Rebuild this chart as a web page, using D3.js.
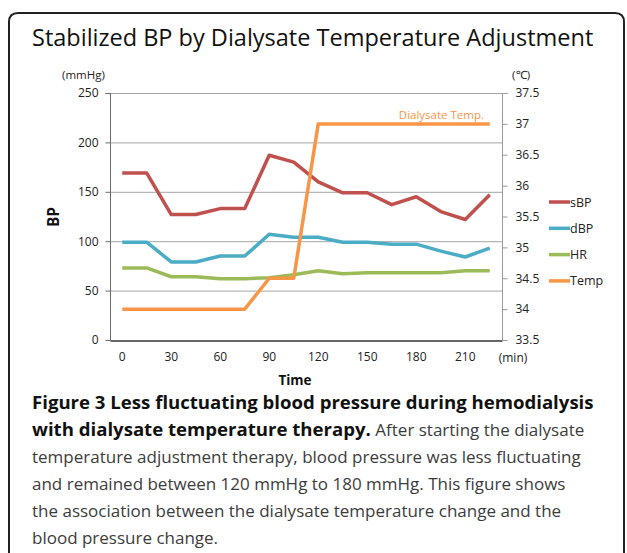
<!DOCTYPE html>
<html>
<head>
<meta charset="utf-8">
<script src="https://cdn.jsdelivr.net/npm/d3@7"></script>
<style>
  body { margin: 0; background: #fff; }
  svg text { font-family: "Open Sans", "Noto Sans", sans-serif; }
</style>
</head>
<body>
<div id="chart"></div>
<script>
// data (every 15 min)
var times = [0, 15, 30, 45, 60, 75, 90, 105, 120, 135, 150, 165, 180, 195, 210, 225]
var sBP = [169, 169, 127, 127, 133, 133, 187, 180, 160, 149, 149, 137, 145, 130, 122, 147]
var dBP = [99, 99, 79, 79, 85, 85, 107, 104, 104, 99, 99, 97, 97, 90, 84, 93]
var HR = [73, 73, 64, 64, 62, 62, 63, 66, 70, 67, 68, 68, 68, 68, 70, 70]
var temp = [34, 34, 34, 34, 34, 34, 34.5, 34.5, 37, 37, 37, 37, 37, 37, 37, 37]
var leftTicks = [0, 50, 100, 150, 200, 250]
var rightTicks = [33.5, 34, 34.5, 35, 35.5, 36, 36.5, 37, 37.5]
var xTickValues = [0, 30, 60, 90, 120, 150, 180, 210]

var seriesNames = ["sBP", "dBP", "HR", "Temp"]
var seriesColors = ["#C0504D", "#4BACC6", "#9BBB59", "#F79646"]

var width = 627, height = 553
var plotLeft = 110, plotRight = 502, plotTop = 93, plotBottom = 340

var svg = d3.select("#chart").append("svg")
  .attr("width", width)
  .attr("height", height)

// frame round the figure (open at the bottom)
svg.append("path")
  .attr("d", "M9,560 L9,22 Q9,13 18,13 L615,13 Q624,13 624,22 L624,560")
  .attr("fill", "none")
  .attr("stroke", "#222")
  .attr("stroke-width", 2)

svg.append("text")
  .attr("x", 32)
  .attr("y", 46)
  .attr("font-size", 23.5)
  .attr("fill", "#111")
  .text("Stabilized BP by Dialysate Temperature Adjustment")

// scales
var x = d3.scaleBand().domain(times).range([plotLeft, plotRight])
var yLeft = d3.scaleLinear().domain([0, 250]).range([plotBottom, plotTop])
var yRight = d3.scaleLinear().domain([33.5, 37.5]).range([plotBottom, plotTop])

function cx(t) { return x(t) + x.bandwidth() / 2 }

// gridlines
svg.append("g")
  .selectAll("line")
  .data(leftTicks.slice(1))
  .enter().append("line")
  .attr("x1", plotLeft).attr("x2", plotRight)
  .attr("y1", function(d) { return yLeft(d) + 0.5 })
  .attr("y2", function(d) { return yLeft(d) + 0.5 })
  .attr("stroke", "#a6a6a6")
  .attr("stroke-width", 1)

// left axis
var leftAxis = svg.append("g")
  .attr("transform", "translate(" + (plotLeft + 0.5) + ",0)")
  .call(d3.axisLeft(yLeft).tickValues(leftTicks).tickSize(5).tickPadding(7))
leftAxis.select(".domain").attr("stroke", "#6b6b6b").attr("d", "M-5," + (plotTop + 0.5) + "H0V" + plotBottom)
leftAxis.selectAll(".tick line").attr("stroke", "#6b6b6b")
leftAxis.selectAll("text").attr("font-size", 12).attr("fill", "#222")
  .attr("font-family", "'Open Sans', sans-serif")

// right axis
var rightAxis = svg.append("g")
  .attr("transform", "translate(" + (plotRight + 0.5) + ",0)")
  .call(d3.axisRight(yRight).tickValues(rightTicks).tickFormat(d3.format("~g")).tickSize(5).tickPadding(8))
rightAxis.select(".domain").attr("stroke", "#9a9a9a").attr("d", "M5," + (plotTop + 0.5) + "H0V" + plotBottom)
rightAxis.selectAll(".tick line").attr("stroke", "#9a9a9a")
rightAxis.selectAll("text").attr("font-size", 12).attr("fill", "#222")
  .attr("font-family", "'Open Sans', sans-serif")

// bottom axis
var bottomAxis = svg.append("g")
  .attr("transform", "translate(0," + (plotBottom + 0.5) + ")")
  .call(d3.axisBottom(x).tickValues(xTickValues).tickSize(0).tickPadding(12))
bottomAxis.select(".domain").attr("stroke", "#333").attr("stroke-width", 1.5)
bottomAxis.selectAll("text").attr("font-size", 12).attr("fill", "#222")
  .attr("font-family", "'Open Sans', sans-serif")

svg.append("text")
  .attr("x", 513).attr("y", 362)
  .attr("text-anchor", "middle")
  .attr("font-size", 12).attr("fill", "#222")
  .text("(min)")

// unit labels
svg.append("text")
  .attr("x", 62).attr("y", 79)
  .attr("font-size", 11.5).attr("fill", "#222")
  .text("(mmHg)")
svg.append("text")
  .attr("x", 512).attr("y", 79)
  .attr("font-size", 11.5).attr("fill", "#222")
  .text("(\u2103)")

// axis titles
svg.append("text")
  .attr("x", 295).attr("y", 385)
  .attr("text-anchor", "middle")
  .attr("font-size", 13.5).attr("font-weight", "bold").attr("fill", "#111")
  .text("Time")
svg.append("text")
  .attr("transform", "translate(59,217) rotate(-90)")
  .attr("text-anchor", "middle")
  .attr("font-size", 15.5).attr("font-weight", "bold").attr("fill", "#111")
  .text("BP")

// lines
var leftLine = d3.line()
  .x(function(d, i) { return cx(times[i]) })
  .y(function(d) { return yLeft(d) })
var rightLine = d3.line()
  .x(function(d, i) { return cx(times[i]) })
  .y(function(d) { return yRight(d) })

var seriesData = [sBP, dBP, HR]
seriesData.forEach(function(s, k) {
  svg.append("path")
    .attr("d", leftLine(s))
    .attr("fill", "none")
    .attr("stroke", seriesColors[k])
    .attr("stroke-width", 3.5)
    .attr("stroke-linejoin", "round")
})
svg.append("path")
  .attr("d", rightLine(temp))
  .attr("fill", "none")
  .attr("stroke", seriesColors[3])
  .attr("stroke-width", 3.5)
  .attr("stroke-linejoin", "round")

svg.append("text")
  .attr("x", 484).attr("y", 119)
  .attr("text-anchor", "end")
  .attr("font-size", 11.5)
  .attr("fill", seriesColors[3])
  .text("Dialysate Temp.")

// legend
var legend = svg.append("g").selectAll("g")
  .data(seriesNames)
  .enter().append("g")
  .attr("transform", function(d, i) { return "translate(549," + (202 + i * 26.3) + ")" })
legend.append("line")
  .attr("x1", 0).attr("x2", 21)
  .attr("stroke", function(d, i) { return seriesColors[i] })
  .attr("stroke-width", 3.5)
legend.append("text")
  .attr("x", 21).attr("y", 4.5)
  .attr("font-size", 12.5).attr("fill", "#222")
  .text(function(d) { return d })

// caption: bold lead-in, then regular text
var caption = svg.append("text")
  .attr("fill", "#3c3c3c")
var lines = [
  [["Figure 3 Less fluctuating blood pressure during hemodialysis", true]],
  [["with dialysate temperature therapy.", true], [" After starting the dialysate", false]],
  [["temperature adjustment therapy, blood pressure was less fluctuating", false]],
  [["and remained between 120 mmHg to 180 mmHg. This figure shows", false]],
  [["the association between the dialysate temperature change and the", false]],
  [["blood pressure change.", false]]
]
lines.forEach(function(parts, i) {
  parts.forEach(function(p, j) {
    var s = caption.append("tspan").text(p[0])
    if (j === 0) s.attr("x", 32).attr("y", 409 + i * 27)
    if (p[1]) {
      s.attr("font-weight", "bold").attr("fill", "#111").attr("font-size", 18.6)
    } else {
      s.attr("font-size", 17)
    }
  })
})
</script>
</body>
</html>
